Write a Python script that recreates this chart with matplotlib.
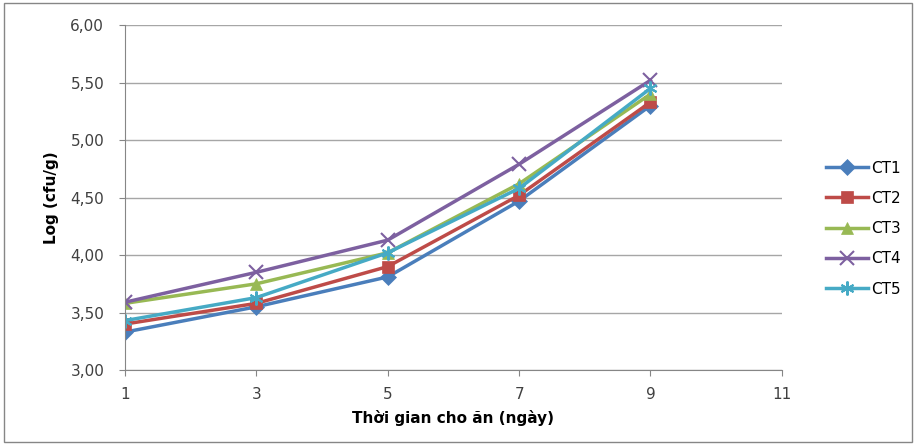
import matplotlib
matplotlib.use("Agg")
import matplotlib.pyplot as plt

days = [1, 3, 5, 7, 9]
ct1 = [3.33, 3.55, 3.81, 4.47, 5.30]
ct2 = [3.40, 3.58, 3.90, 4.52, 5.33]
ct3 = [3.58, 3.75, 4.02, 4.62, 5.40]
ct4 = [3.59, 3.85, 4.13, 4.79, 5.52]
ct5 = [3.43, 3.63, 4.02, 4.58, 5.45]
names = ['CT1', 'CT2', 'CT3', 'CT4', 'CT5']
yticks = [3.0, 3.5, 4.0, 4.5, 5.0, 5.5, 6.0]
xticks = [1, 3, 5, 7, 9, 11]

colors = ['#4A7EBB', '#BE4B48', '#98B954', '#7D60A0', '#46AAC5']
markers = ['D', 's', '^', 'x', (6, 2, 0)]
sizes = [8, 9, 9, 10, 10]

fig = plt.figure(figsize=(9.16, 4.45), dpi=100)
ax = fig.add_axes([0.1365, 0.1685, 0.717, 0.775])

for vals, name, c, m, s in zip([ct1, ct2, ct3, ct4, ct5], names, colors, markers, sizes):
    ax.plot(days, vals, color=c, marker=m, markersize=s, linewidth=2.5,
            markeredgewidth=1.5 if m in ('x', (6, 2, 0)) else 0.5,
            markeredgecolor=c, label=name)

ax.set_xlim(1, 11)
ax.set_ylim(3, 6)
ax.set_xticks(xticks)
ax.set_yticks(yticks)
ax.set_yticklabels([('%.2f' % v).replace('.', ',') for v in yticks])
ax.grid(axis='y', color='#a6a6a6', linewidth=1)
ax.set_axisbelow(True)
for side in ['top', 'right']:
    ax.spines[side].set_visible(False)
for side in ['left', 'bottom']:
    ax.spines[side].set_color('#868686')
ax.tick_params(axis='both', length=4, color='#868686', labelsize=11, colors='#404040')
ax.tick_params(axis='y', pad=11)
ax.tick_params(axis='x', pad=8)
ax.set_ylabel('Log (cfu/g)', fontsize=11, fontweight='bold', labelpad=8)
ax.set_xlabel('Thời gian cho ăn (ngày)', fontsize=11, fontweight='bold', labelpad=6)

ax.legend(loc='center left', bbox_to_anchor=(1.047, 0.41), frameon=False,
          fontsize=11, handlelength=2.7, labelspacing=1.0, handletextpad=0.2)

border = plt.Rectangle((0.004, 0.006), 0.992, 0.988, transform=fig.transFigure,
                       fill=False, edgecolor='#868686', linewidth=1)
fig.patches.append(border)

fig.savefig('out.png', dpi=100)
